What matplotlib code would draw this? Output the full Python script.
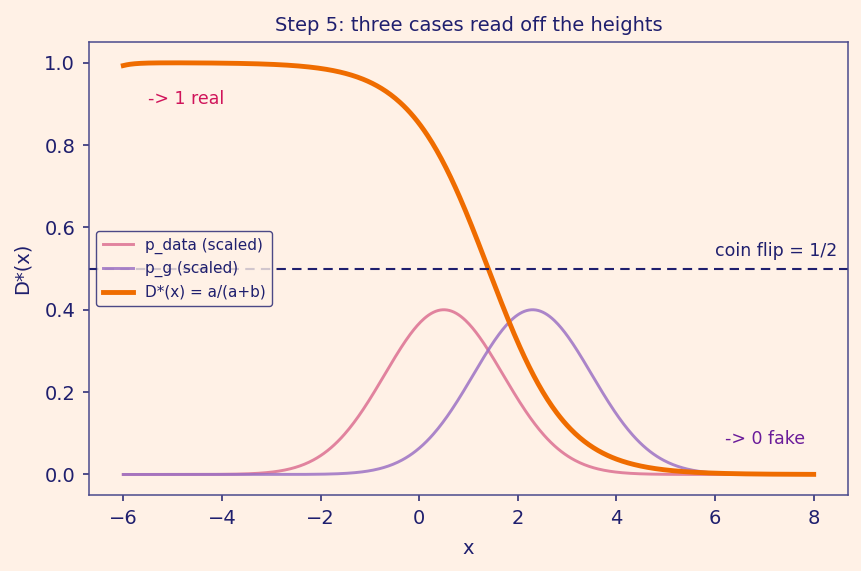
import numpy as np
import matplotlib
matplotlib.use("Agg")
import matplotlib.pyplot as plt

# distribution parameters
x_range = [-6.0, 8.0]
mu_data = 0.5
mu_g = 2.3
sigma = 1.2
peak_height = 0.4   # both curves drawn scaled to this peak
eps = 1e-9          # tiny guard in the denominator
coin_flip = 0.5

BG = "#fff1e6"
NAVY = "#1f1f6e"
SPINE = "#4a4a8c"

x = np.linspace(x_range[0], x_range[1], 600)
a = np.exp(-0.5 * ((x - mu_data) / sigma) ** 2) / (sigma * np.sqrt(2 * np.pi))
b = np.exp(-0.5 * ((x - mu_g) / sigma) ** 2) / (sigma * np.sqrt(2 * np.pi))
d_star = a / (a + b + eps)
a_scaled = a / a.max() * peak_height
b_scaled = b / b.max() * peak_height

fig = plt.figure(figsize=(8.62, 5.71), dpi=100, facecolor=BG)
ax = fig.add_axes([0.103, 0.133, 0.881, 0.793], facecolor=BG)

ax.plot(x, a_scaled, color="#dc7092", lw=2.1, alpha=0.85, label="p_data (scaled)")
ax.plot(x, b_scaled, color="#9c72c4", lw=2.1, alpha=0.85, label="p_g (scaled)")
ax.plot(x, d_star, color="#ef6c00", lw=3.5, label="D*(x) = a/(a+b)")
ax.axhline(coin_flip, color=NAVY, lw=1.5, ls=(0, (4.5, 3)))

ax.text(6.0, 0.52, "coin flip = 1/2", color=NAVY, fontsize=12.5, va="bottom")
ax.text(-5.5, 0.9, "-> 1 real", color="#d0145a", fontsize=12.5)
ax.text(6.2, 0.075, "-> 0 fake", color="#6a1b9a", fontsize=12.5)

ax.set_title("Step 5: three cases read off the heights", color=NAVY, fontsize=14, pad=8)
ax.set_xlabel("x", color=NAVY, fontsize=14, labelpad=8)
ax.set_ylabel("D*(x)", color=NAVY, fontsize=14, labelpad=9)
ax.tick_params(colors=NAVY, labelsize=14, length=4.3, width=1.1, pad=5.5)
for s in ax.spines.values():
    s.set_color(SPINE)
    s.set_linewidth(1.1)

leg = ax.legend(loc="center left", fontsize=11, facecolor=BG, edgecolor=NAVY)
for t in leg.get_texts():
    t.set_color(NAVY)

fig.savefig("out.png", dpi=100, facecolor=BG)
